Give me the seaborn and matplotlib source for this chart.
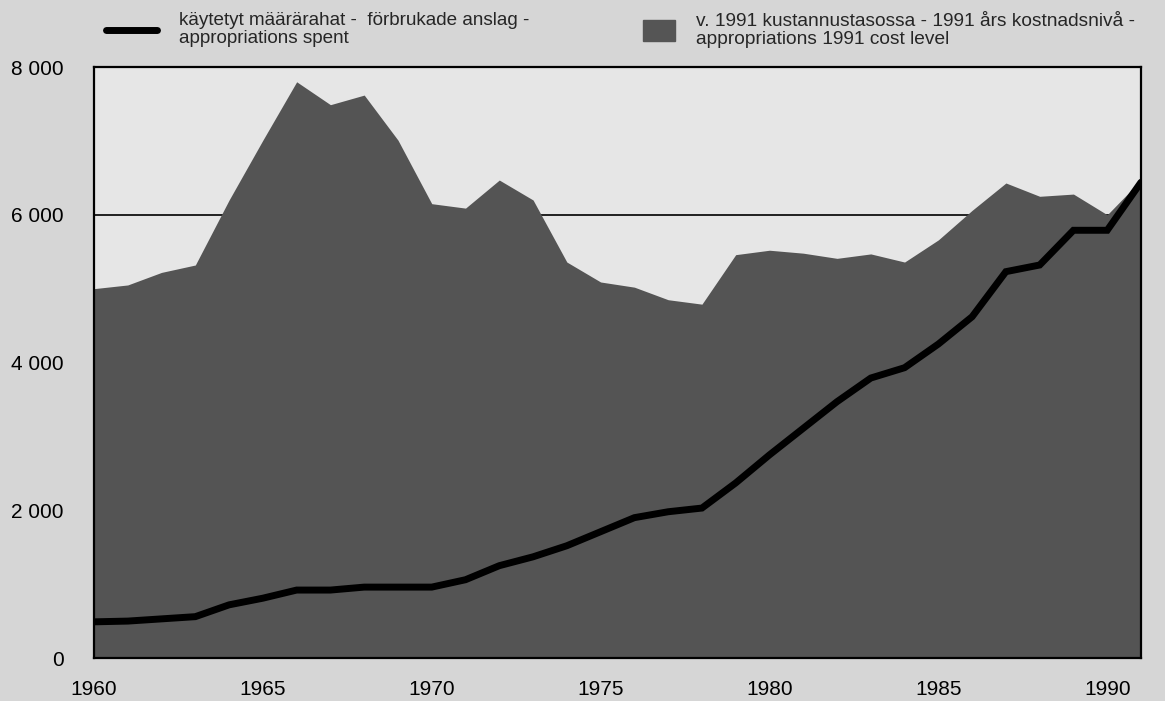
import pandas as pd
import matplotlib.pyplot as plt
import seaborn as sns
from matplotlib.lines import Line2D
from matplotlib.patches import Patch

years = list(range(1960, 1992))

# appropriations at 1991 cost level (area)
cost_level = [5000, 5050, 5220, 5320, 6200, 7010, 7800, 7490, 7620, 7010,
              6150, 6090, 6470, 6200, 5360, 5090, 5020, 4850, 4790, 5460,
              5520, 5480, 5410, 5470, 5360, 5660, 6060, 6430, 6250, 6280,
              6000, 6470]

# appropriations spent (line)
spent = [490, 500, 530, 560, 720, 810, 920, 920, 960, 960,
         960, 1060, 1250, 1370, 1520, 1710, 1900, 1980, 2030, 2370,
         2750, 3110, 3470, 3790, 3930, 4250, 4620, 5230, 5320, 5790,
         5790, 6440]

y_ticks = [0, 2000, 4000, 6000, 8000]
y_labels = ['0', '2 000', '4 000', '6 000', '8 000']
x_ticks = [1960, 1965, 1970, 1975, 1980, 1985, 1990]

label_line = 'käytetyt määrärahat -  förbrukade anslag -\nappropriations spent'
label_area = 'v. 1991 kustannustasossa - 1991 års kostnadsnivå -\nappropriations 1991 cost level'

df = pd.DataFrame({'year': years, 'cost_level': cost_level, 'spent': spent})

sns.set_style('white')
plt.rcParams['font.family'] = ['Liberation Sans', 'DejaVu Sans']

fig = plt.figure(figsize=(11.65, 7.01), dpi=100, facecolor='#d6d6d6')
ax = fig.add_axes([0.0807, 0.0613, 0.8987, 0.8431])
ax.set_facecolor('#e6e6e6')

# gridlines below the area; only the 6000 one shows
for t in y_ticks[1:-1]:
    ax.axhline(t, color='black', lw=1.2, zorder=1)

ax.fill_between(df['year'], df['cost_level'], 0, color='#545454', lw=0, zorder=2)
sns.lineplot(data=df, x='year', y='spent', color='black', lw=5, ax=ax, zorder=3,
             solid_joinstyle='miter')

ax.set_xlim(1960, 1991)
ax.set_ylim(0, 8000)
ax.set_xticks(x_ticks)
ax.set_xticks(years, minor=True)
ax.set_yticks(y_ticks)
ax.set_yticklabels(y_labels)
ax.set_xlabel('')
ax.set_ylabel('')
ax.tick_params(axis='x', which='both', direction='in', length=6, width=1.2,
               colors='black', labelsize=15, pad=16)
ax.tick_params(axis='y', length=0, labelsize=15, pad=22)
for lab in ax.get_xticklabels() + ax.get_yticklabels():
    lab.set_color('black')
for s in ax.spines.values():
    s.set_color('black')
    s.set_linewidth(1.6)
    s.set_zorder(5)

leg1 = fig.legend(handles=[Line2D([0], [0], color='black', lw=5)], labels=[label_line],
                  loc='upper left', bbox_to_anchor=(0.078, 1.004), frameon=False,
                  fontsize=13.6, handlelength=2.7, handletextpad=1.15,
                  borderpad=0.3)
leg2 = fig.legend(handles=[Patch(color='#555555')], labels=[label_area],
                  loc='upper left', bbox_to_anchor=(0.539, 1.004), frameon=False,
                  fontsize=13.8, handlelength=1.65, handleheight=1.3, handletextpad=1.1,
                  borderpad=0.3)
for leg in (leg1, leg2):
    for t in leg.get_texts():
        t.set_linespacing(1.08)

fig.savefig('out.png', dpi=100, facecolor=fig.get_facecolor())
